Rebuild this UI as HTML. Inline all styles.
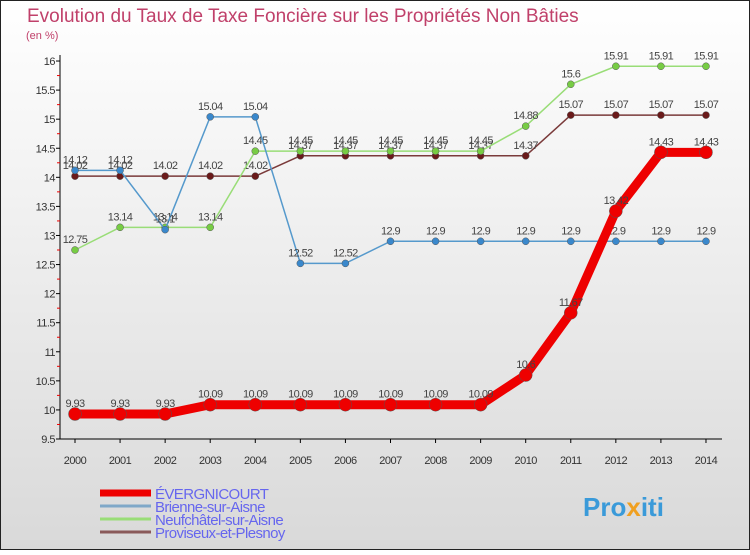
<!DOCTYPE html>
<html><head><meta charset="utf-8"><style>
body{margin:0}
svg text{font-family:"Liberation Sans",sans-serif}
</style></head><body>
<svg id="c" width="750" height="550" xmlns="http://www.w3.org/2000/svg">
<defs><linearGradient id="bg" x1="0" y1="0" x2="0" y2="1"><stop offset="0" stop-color="#ffffff"/><stop offset="1" stop-color="#d9d9d9"/></linearGradient></defs>
<rect x="0" y="0" width="750" height="550" fill="url(#bg)" stroke="#222" stroke-width="2"/>
<text x="27" y="22" font-size="19" fill="#c0406a">Evolution du Taux de Taxe Foncière sur les Propriétés Non Bâties</text>
<text x="26" y="39" font-size="11" fill="#c0406a">(en %)</text>
<g id="axes"></g><g id="series"></g><g id="legend"></g>
<text x="583" y="516" font-size="26" font-weight="bold" fill="#3a9ad9">Pro<tspan fill="#f0a020">x</tspan>iti</text>
</svg>
<script>
const years=[2000,2001,2002,2003,2004,2005,2006,2007,2008,2009,2010,2011,2012,2013,2014];
const yTicks=[9.5,10,10.5,11,11.5,12,12.5,13,13.5,14,14.5,15,15.5,16];
const names=["ÉVERGNICOURT","Brienne-sur-Aisne","Neufchâtel-sur-Aisne","Proviseux-et-Plesnoy"];
const evergnicourt=[9.93,9.93,9.93,10.09,10.09,10.09,10.09,10.09,10.09,10.09,10.6,11.67,13.42,14.43,14.43];
const brienne=[14.12,14.12,13.1,15.04,15.04,12.52,12.52,12.9,12.9,12.9,12.9,12.9,12.9,12.9,12.9];
const neufchatel=[12.75,13.14,13.14,13.14,14.45,14.45,14.45,14.45,14.45,14.45,14.88,15.6,15.91,15.91,15.91];
const proviseux=[14.02,14.02,14.02,14.02,14.02,14.37,14.37,14.37,14.37,14.37,14.37,15.07,15.07,15.07,15.07];
const NS="http://www.w3.org/2000/svg";
const X=i=>75+i*45.07, Y=v=>439-(v-9.5)*58.15;
function mk(p,t,a){const e=document.createElementNS(NS,t);for(const k in a)e.setAttribute(k,a[k]);p.appendChild(e);return e;}
const ax=document.getElementById('axes');
let l=mk(ax,'line',{x1:60,y1:55,x2:60,y2:439,stroke:'#000'});


l=mk(ax,'line',{x1:60,y1:439,x2:722,y2:439,stroke:'#000'});


yTicks.forEach(v=>{
 mk(ax,'line',{x1:56,y1:Y(v),x2:60,y2:Y(v),stroke:'#000'});
 if(v<16)mk(ax,'line',{x1:57,y1:Y(v+0.25),x2:60,y2:Y(v+0.25),stroke:'#e00'});
 const t=mk(ax,'text',{x:55,y:Y(v)+4,'font-size':11,fill:'#333','text-anchor':'end','letter-spacing':'-0.5'});
 t.textContent=v;
 
 
});
years.forEach((y,i)=>{
 mk(ax,'line',{x1:X(i),y1:439,x2:X(i),y2:443,stroke:'#000'});
 const t=mk(ax,'text',{x:X(i),y:464,'font-size':11,fill:'#333','text-anchor':'middle','letter-spacing':'-0.5'});
 t.textContent=y;
 
 
});
const sg=document.getElementById('series');
function draw(data,color,dot,w,r,name){
 const g=mk(sg,'g',{});
 
 
 mk(g,'polyline',{points:data.map((v,i)=>X(i)+','+Y(v)).join(' '),fill:'none',stroke:color,'stroke-width':w,'stroke-linejoin':'round'});
 data.forEach((v,i)=>{
  const c=mk(g,'circle',{cx:X(i),cy:Y(v),r:r,fill:dot,stroke:'#555','stroke-width':0.5});
  
  
  const t=mk(g,'text',{x:X(i),y:Y(v)-7,'font-size':11,fill:'#444','text-anchor':'middle','letter-spacing':'-0.6'});
  t.textContent=v;
  
  
 });
}
draw(proviseux,'#7a3a3a','#6a1a1a',1.5,3.5,'series-proviseux');
draw(neufchatel,'#99dd77','#77cc44',1.5,3.5,'series-neufchatel');
draw(brienne,'#5599cc','#3a88cc',1.5,3.5,'series-brienne');
draw(evergnicourt,'#ee0000','#ee0000',9,6.5,'series-evergnicourt');
const lg=document.getElementById('legend');
const lc=['#ee0000','#7fa8c8','#99dd77','#8a5a5a'],lw=[7,3,3,3];
names.forEach((n,i)=>{
 const y=493+i*13;
 const g=mk(lg,'g',{});
 
 
 mk(g,'line',{x1:100,y1:y,x2:151,y2:y,stroke:lc[i],'stroke-width':lw[i]});
 const t=mk(g,'text',{x:155,y:y+6,'font-size':15,fill:'#6666ee','letter-spacing':'-0.6'});
 t.textContent=n;
});
</script>
</body></html>
